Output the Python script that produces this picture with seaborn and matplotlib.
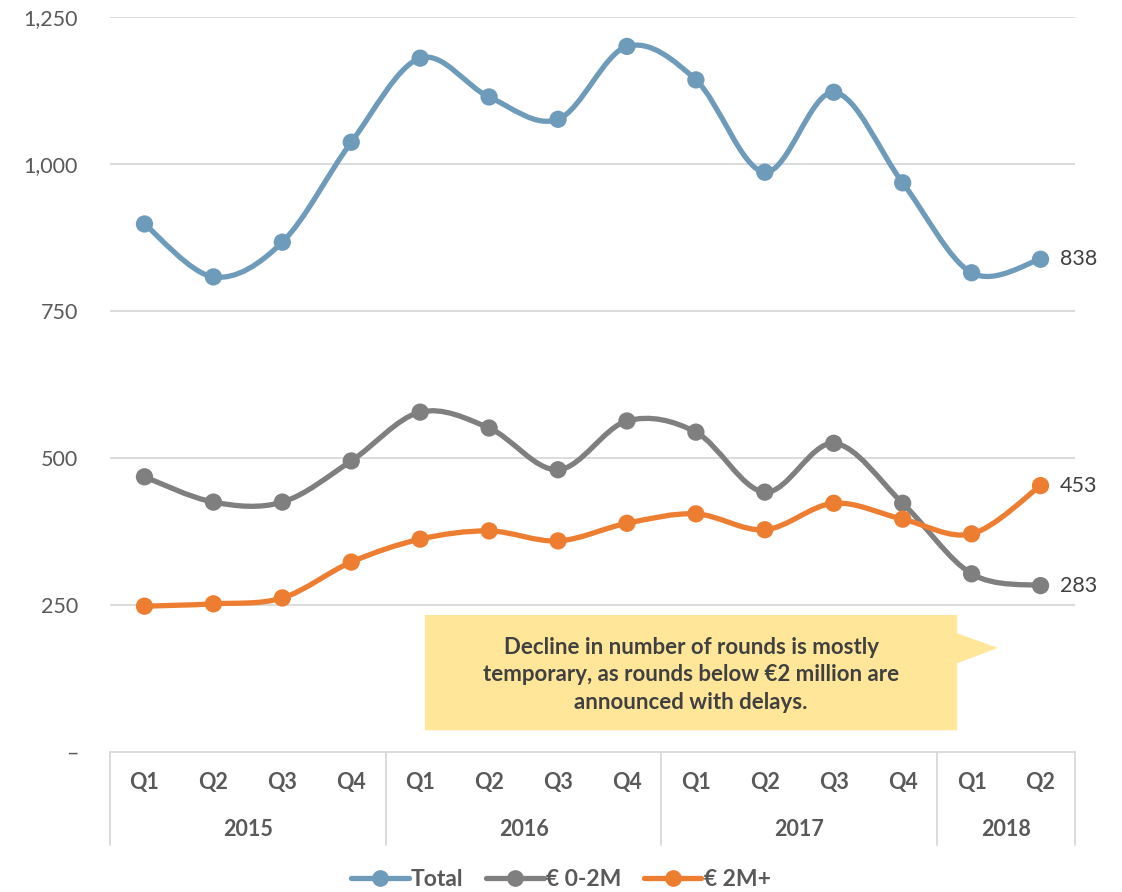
import matplotlib
matplotlib.use("Agg")
import matplotlib.pyplot as plt
from matplotlib.path import Path
from matplotlib.patches import PathPatch, Polygon
from matplotlib.lines import Line2D
from matplotlib.ticker import FixedLocator, FuncFormatter
import seaborn as sns
import pandas as pd
import numpy as np

# ---- data -------------------------------------------------------------
quarters = ["Q1", "Q2", "Q3", "Q4", "Q1", "Q2", "Q3", "Q4",
            "Q1", "Q2", "Q3", "Q4", "Q1", "Q2"]
years = ["2015", "2016", "2017", "2018"]
quarters_per_year = [4, 4, 4, 2]

total = [898, 808, 867, 1037, 1180, 1114, 1076, 1200,
         1143, 986, 1122, 968, 815, 838]
small_rounds = [468, 425, 425, 495, 578, 551, 480, 563,
                544, 442, 525, 423, 303, 283]
large_rounds = [248, 252, 262, 323, 362, 376, 359, 389,
                405, 378, 423, 396, 371, 453]

series_names = ["Total", "€ 0-2M", "€ 2M+"]
series_values = [total, small_rounds, large_rounds]
colors = {"Total": "#6F9BBA", "€ 0-2M": "#7F7F7F", "€ 2M+": "#ED7D31"}

y_ticks = [0, 250, 500, 750, 1000, 1250]
note = ("Decline in number of rounds is mostly\n"
        "temporary, as rounds below €2 million are\n"
        "announced with delays.")

# ---- style ------------------------------------------------------------
sns.set_theme(style="white")
plt.rcParams["font.family"] = ["Lato", "DejaVu Sans"]
text_color = "#595959"
dark_text = "#404040"
grid_color = "#D9D9D9"

fig = plt.figure(figsize=(11.22, 8.92), dpi=100)
ax = fig.add_axes([110 / 1122, 1 - 752 / 892, 965 / 1122, 735 / 892])

pos = np.arange(len(quarters))
df = pd.DataFrame({
    "pos": np.tile(pos, len(series_names)),
    "value": np.concatenate(series_values),
    "series": np.repeat(series_names, len(quarters)),
})


def smooth_path(xs, ys):
    """Cubic Bezier path through all points (Catmull-Rom style control points)."""
    pts = np.column_stack([xs, ys]).astype(float)
    n = len(pts)
    verts = [pts[0]]
    codes = [Path.MOVETO]
    for i in range(n - 1):
        p_prev = pts[i - 1] if i > 0 else pts[i]
        p0, p1 = pts[i], pts[i + 1]
        p_next = pts[i + 2] if i + 2 < n else pts[i + 1]
        c1 = p0 + (p1 - p_prev) / 6.0
        c2 = p1 - (p_next - p0) / 6.0
        verts += [c1, c2, p1]
        codes += [Path.CURVE4] * 3
    return Path(verts, codes)


# gridlines
for t in y_ticks[1:]:
    ax.axhline(t, color=grid_color, lw=1.3, zorder=0)

# smoothed lines
for name in series_names:
    sub = df[df["series"] == name]
    patch = PathPatch(smooth_path(sub["pos"].values, sub["value"].values),
                      facecolor="none", edgecolor=colors[name], lw=3.8,
                      capstyle="round", joinstyle="round", zorder=2)
    ax.add_patch(patch)

# markers
sns.scatterplot(data=df, x="pos", y="value", hue="series", palette=colors,
                s=155, linewidth=0, legend=False, ax=ax, zorder=3)

# end-of-series value labels
for name in series_names:
    sub = df[df["series"] == name]
    last = sub.iloc[-1]
    ax.annotate(f"{last['value']:,}", (last["pos"], last["value"]),
                xytext=(14, 0), textcoords="offset points", va="center",
                ha="left", fontsize=15.5, color=dark_text, annotation_clip=False)

ax.set_xlim(-0.5, len(quarters) - 0.5)
ax.set_ylim(0, 1250)
ax.yaxis.set_major_locator(FixedLocator(y_ticks))
ax.yaxis.set_major_formatter(FuncFormatter(lambda v, p: "–" if v == 0 else f"{int(v):,}"))
ax.tick_params(axis="y", length=0, labelsize=15.5, labelcolor=text_color, pad=23)
ax.set_xticks([])
ax.set_xlabel("")
ax.set_ylabel("")
for side in ["top", "right", "left"]:
    ax.spines[side].set_visible(False)
ax.spines["bottom"].set_color(grid_color)
ax.spines["bottom"].set_linewidth(1.3)

# two-level category axis
trans = ax.get_xaxis_transform()
for i, q in enumerate(quarters):
    ax.text(i, -0.042, q, transform=trans, ha="center", va="center",
            fontsize=15.5, fontweight="bold", color=text_color)
bounds = np.concatenate([[0], np.cumsum(quarters_per_year)]) - 0.5
for b in bounds:
    ax.add_line(Line2D([b, b], [0, -0.127], transform=trans, color=grid_color,
                       lw=1.3, clip_on=False))
for yr, lo, hi in zip(years, bounds[:-1], bounds[1:]):
    ax.text((lo + hi) / 2, -0.105, yr, transform=trans, ha="center",
            va="center", fontsize=15.5, fontweight="bold", color=text_color)

# callout
callout = Polygon([(4.07, 37), (11.79, 37), (11.79, 151), (12.38, 177),
                   (11.79, 202), (11.79, 233), (4.07, 233)],
                  closed=True, facecolor="#FFE699", edgecolor="none", zorder=1)
ax.add_patch(callout)
ax.text(7.93, 131, note, ha="center", va="center", fontsize=16,
        fontweight="bold", color=dark_text, linespacing=1.38, zorder=4)

# legend
handles = [Line2D([0], [0], color=colors[n], lw=3.8, marker="o", markersize=11,
                  solid_capstyle="round") for n in series_names]
leg = fig.legend(handles, series_names, loc="center", bbox_to_anchor=(0.5, 12 / 892),
                 ncol=3, frameon=False, handlelength=2.5, handletextpad=0.1,
                 columnspacing=1.0, prop={"weight": "bold", "size": 16.5})
for t in leg.get_texts():
    t.set_color(text_color)

fig.savefig("out.png", dpi=100)
